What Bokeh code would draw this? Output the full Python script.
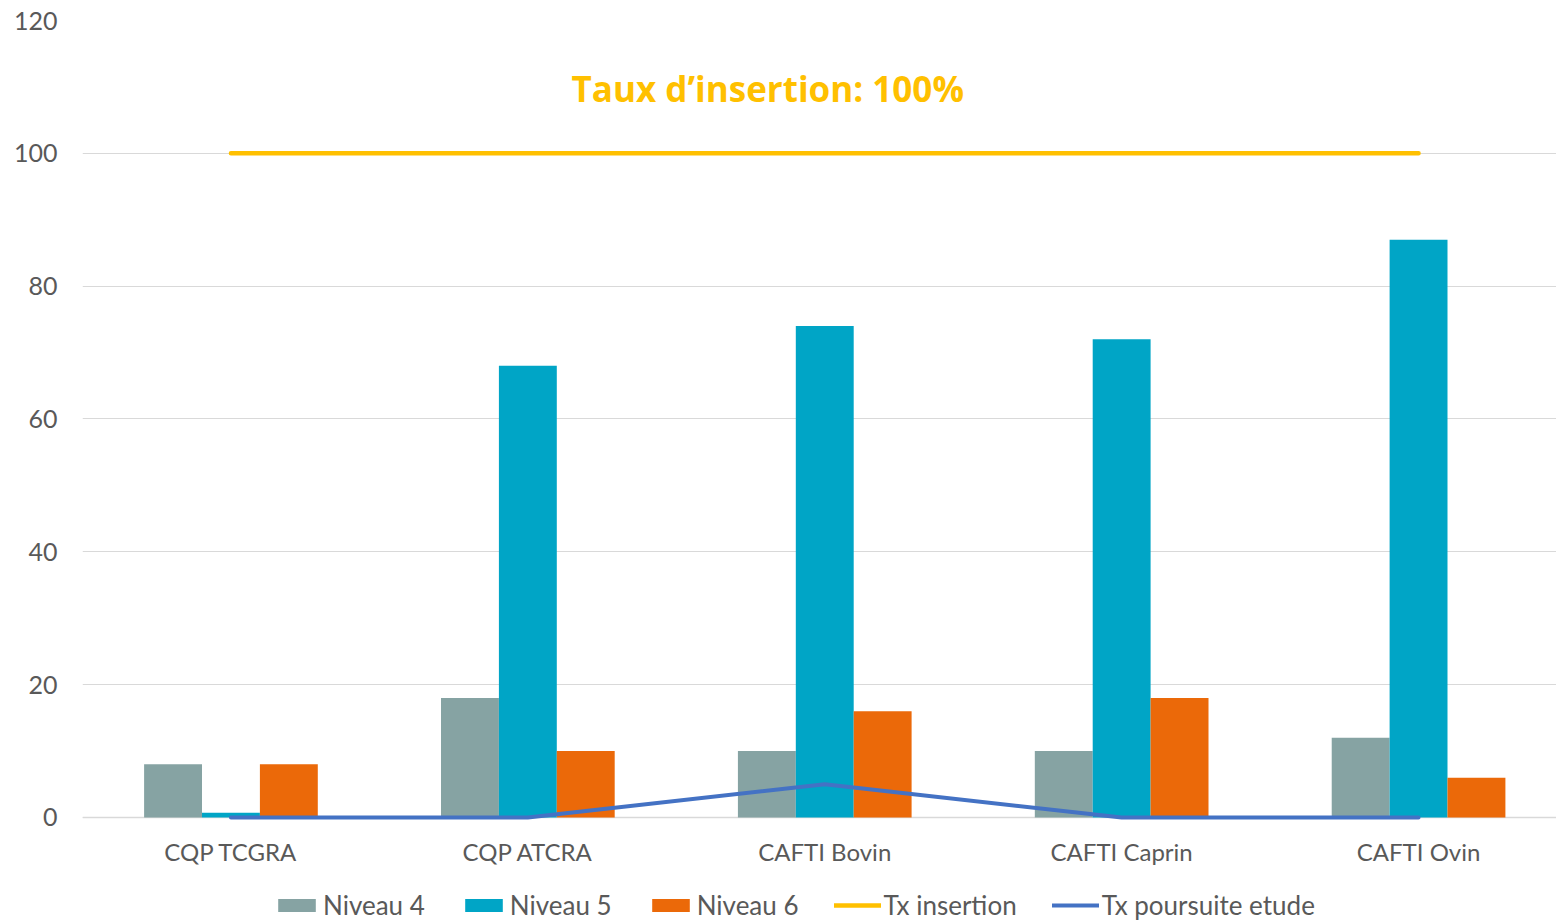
from bokeh.plotting import figure
from bokeh.models import Legend, LegendItem, FixedTicker, Label, Range1d
from bokeh.embed import file_html
from bokeh.resources import INLINE

categories = ["CQP TCGRA", "CQP ATCRA", "CAFTI Bovin", "CAFTI Caprin", "CAFTI Ovin"]
niveau4 = [8, 18, 10, 10, 12]
niveau5 = [0.7, 68, 74, 72, 87]
niveau6 = [8, 10, 16, 18, 6]
tx_insertion = [100, 100, 100, 100, 100]
tx_poursuite = [0, 0, 5, 0, 0]
y_ticks = [0, 20, 40, 60, 80, 100, 120]
series_names = ["Niveau 4", "Niveau 5", "Niveau 6", "Tx insertion", "Tx poursuite etude"]

FONT = "Lato"
idx = list(range(len(categories)))
bw = 0.195
c4, c5, c6 = "#86A3A3", "#00A5C6", "#EB6909"
c_ins, c_pou = "#FFC000", "#4472C4"

# frame spans the whole chart; the y range runs below 0 to leave room for labels and legend
p = figure(frame_width=1474, frame_height=900, output_backend="svg", toolbar_location=None,
           x_range=Range1d(-0.5, 4.4646), y_range=Range1d(-15.51, 120),
           min_border_left=82, min_border_top=20, min_border_right=0, min_border_bottom=0)
p.outline_line_color = None

r4 = p.vbar(x=[i - bw for i in idx], top=niveau4, width=bw, fill_color=c4, line_color=None)
r5 = p.vbar(x=idx, top=niveau5, width=bw, fill_color=c5, line_color=None)
r6 = p.vbar(x=[i + bw for i in idx], top=niveau6, width=bw, fill_color=c6, line_color=None)
rl1 = p.line(x=idx, y=tx_insertion, line_color=c_ins, line_width=4.5, line_cap="round")
rl2 = p.line(x=idx, y=tx_poursuite, line_color=c_pou, line_width=4, line_cap="round")

xa = p.xaxis[0]
xa.fixed_location = 0
xa.level = "underlay"
xa.ticker = FixedTicker(ticks=idx)
xa.major_label_overrides = {i: c for i, c in enumerate(categories)}
xa.major_label_text_font = FONT
xa.major_label_text_font_size = "24px"
xa.major_label_text_color = "#595959"
xa.major_tick_line_color = None
xa.minor_tick_line_color = None
xa.axis_line_color = "#D9D9D9"
xa.axis_line_width = 1.5
xa.major_label_standoff = 14

p.yaxis.ticker = FixedTicker(ticks=y_ticks)
p.yaxis.major_label_text_font = FONT
p.yaxis.major_label_text_font_size = "25px"
p.yaxis.major_label_text_color = "#595959"
p.yaxis.major_tick_line_color = None
p.yaxis.minor_tick_line_color = None
p.yaxis.axis_line_color = None
p.yaxis.major_label_standoff = 19

p.xgrid.grid_line_color = None
p.ygrid.ticker = FixedTicker(ticks=y_ticks)
p.ygrid.grid_line_color = "#D9D9D9"
p.ygrid.grid_line_width = 1.2

p.add_layout(Label(x=1.808, y=109.8, text="Taux d\u2019insertion: 100%", text_font="Open Sans",
                   text_font_style="bold", text_font_size="35px", text_color=c_ins,
                   text_align="center", text_baseline="middle"))

legend = Legend(items=[LegendItem(label=n, renderers=[r]) for n, r in
                       zip(series_names, [r4, r5, r6, rl1, rl2])],
                orientation="horizontal", location=(191, -1), border_line_color=None,
                background_fill_alpha=0, label_text_font=FONT, label_text_font_size="26px",
                label_text_color="#595959", glyph_width=47, glyph_height=16, label_standoff=3,
                spacing=35, padding=0, margin=0)
p.add_layout(legend, "center")

open("out.html", "w").write(file_html(p, INLINE))
